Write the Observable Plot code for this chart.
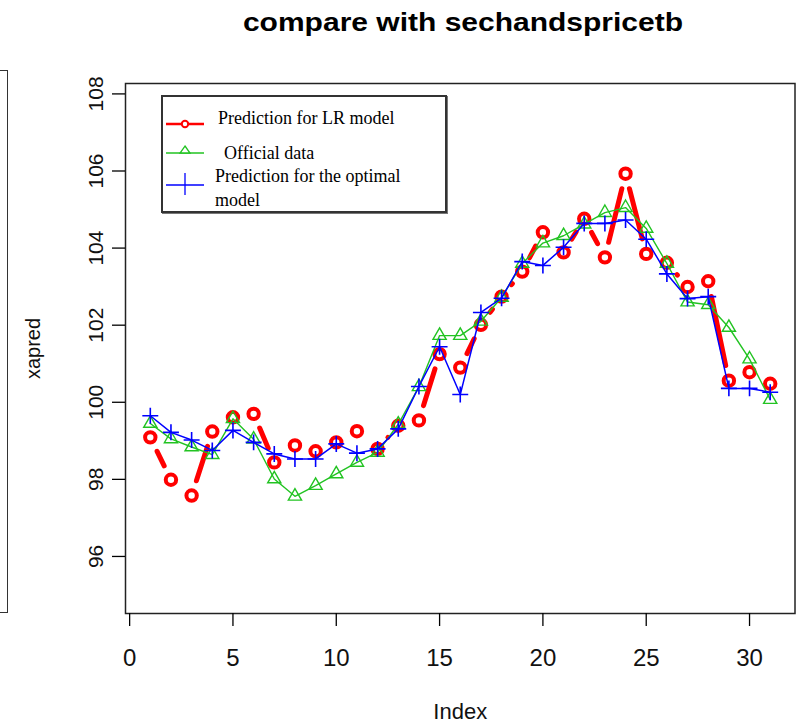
<!DOCTYPE html>
<html>
<head>
<meta charset="utf-8">
<script src="https://cdn.jsdelivr.net/npm/d3@7"></script>
<script src="https://cdn.jsdelivr.net/npm/@observablehq/plot@0.6"></script>
<style>
  html, body { margin: 0; padding: 0; background: #fff; }
  #wrap { position: relative; width: 797px; height: 724px; overflow: hidden; font-family: "Liberation Sans", Arial, sans-serif; }
  #wrap svg.plot { position: absolute; left: 0; top: 0; }
  #title { position: absolute; left: 0; top: 7px; width: 926px; text-align: center; font-weight: bold; font-size: 25px; line-height: 30px; color: #000; transform: scaleX(1.2); transform-origin: 463px 0; }
  #leftframe { position: absolute; left: -2px; top: 70px; width: 8px; height: 541px; border: 1.5px solid #333; }
  #legend { position: absolute; left: 161px; top: 95px; width: 282px; height: 114px; border: 2px solid #333; background: #fff; box-shadow: 1px 1px 0 #777; }
  .lg { position: absolute; font-family: "Liberation Serif", "Times New Roman", serif; font-size: 18px; line-height: 22px; color: #000; white-space: nowrap; }
</style>
</head>
<body>
<div id="wrap">
  <div id="leftframe"></div>
</div>
<script>
// ---- data ----
const index = d3.range(1, 32);
const lrPred = [99.09, 97.99, 97.58, 99.24, 99.61, 99.70, 98.44, 98.88, 98.73, 98.96, 99.25, 98.79, 99.39, 99.53, 101.25, 100.90, 102.01, 102.74, 103.39, 104.41, 103.89, 104.76, 103.76, 105.93, 103.85, 103.62, 102.99, 103.14, 100.56, 100.78, 100.48];
const official = [99.45, 99.05, 98.84, 98.64, 99.57, 99.04, 98.01, 97.56, 97.84, 98.14, 98.44, 98.70, 99.43, 100.40, 101.73, 101.73, 102.10, 102.72, 103.60, 104.13, 104.32, 104.62, 104.92, 105.05, 104.51, 103.60, 102.60, 102.53, 101.94, 101.12, 100.07];
const optimalPred = [99.65, 99.22, 99.02, 98.75, 99.27, 98.96, 98.66, 98.53, 98.53, 98.92, 98.68, 98.79, 99.31, 100.41, 101.44, 100.20, 102.33, 102.70, 103.65, 103.55, 104.02, 104.64, 104.64, 104.73, 104.23, 103.33, 102.69, 102.74, 100.36, 100.36, 100.26];
const xTicks = [0, 5, 10, 15, 20, 25, 30];
const yTicks = [96, 98, 100, 102, 104, 106, 108];
const seriesNames = ["Prediction for LR model", "  Official data", "Prediction for the optimal model"];
const titleText = "compare with sechandspricetb";
const xLabel = "Index";
const yLabel = "xapred";

// ---- build ----
const red = "#ff0000", green = "#22c322", blue = "#0000ff";
const toRows = vals => vals.map((v, i) => ({index: index[i], value: v}));
const lr = toRows(lrPred), off = toRows(official), opt = toRows(optimalPred);
const lrSeg = lr.slice(0, -1).map((d, i) => ({x1: d.index, y1: d.value, x2: lr[i + 1].index, y2: lr[i + 1].value}));

const chart = Plot.plot({
  width: 797, height: 724,
  marginLeft: 125, marginRight: 2.5, marginTop: 83, marginBottom: 111,
  x: {domain: [-0.2, 32.2]},
  y: {domain: [94.52, 108.27]},
  style: {fontFamily: "'Liberation Sans', Arial, sans-serif", background: "transparent", color: "#000", overflow: "visible"},
  marks: [
    Plot.link(lrSeg, {x1: "x1", y1: "y1", x2: "x2", y2: "y2", stroke: red, strokeWidth: 5, strokeLinecap: "round"}),
    Plot.dot(lr, {x: "index", y: "value", r: 5.2, stroke: red, strokeWidth: 4, fill: "none"}),
    Plot.line(off, {x: "index", y: "value", stroke: green, strokeWidth: 1.4}),
    Plot.dot(off, {x: "index", y: "value", symbol: "triangle", r: 4.9, stroke: green, strokeWidth: 1.4, fill: "none"}),
    Plot.line(opt, {x: "index", y: "value", stroke: blue, strokeWidth: 1.5}),
    Plot.dot(opt, {x: "index", y: "value", symbol: "plus", r: 5.2, stroke: blue, strokeWidth: 1.6}),
    Plot.frame({stroke: "#222", strokeWidth: 1.5}),
    Plot.axisX({ticks: xTicks, tickSize: 13, tickFormat: () => "", strokeWidth: 1.3, label: null}),
    Plot.axisY({ticks: yTicks, tickSize: 13, tickFormat: () => "", strokeWidth: 1.3, label: null}),
    Plot.text(xTicks, {x: d => d, text: d => String(d), frameAnchor: "bottom", dy: 45, lineAnchor: "middle", textAnchor: "middle", fontSize: 24, fill: "#111"}),
    Plot.text(yTicks, {y: d => d, text: d => String(d), frameAnchor: "left", dx: -29, rotate: -90, lineAnchor: "middle", textAnchor: "middle", fontSize: 21, fill: "#111"}),
    Plot.text([xLabel], {text: d => d, frameAnchor: "bottom", dy: 98, lineAnchor: "middle", textAnchor: "middle", fontSize: 22, fill: "#111"}),
    Plot.text([yLabel], {text: d => d, frameAnchor: "left", dx: -92, rotate: -90, lineAnchor: "middle", textAnchor: "middle", fontSize: 20, fill: "#111"})
  ]
});
const wrap = document.getElementById("wrap");
wrap.appendChild(chart);

// type "b" style: leave a gap around each point on the LR segments
const gap = 13, sw = 5;
const linkGroup = chart.querySelector('g[aria-label="link"]');
if (linkGroup) {
  linkGroup.querySelectorAll("path, line").forEach(p => {
    const L = p.getTotalLength();
    const d = L - 2 * gap - sw;
    if (d <= 0) { p.setAttribute("stroke-opacity", 0); return; }
    p.setAttribute("stroke-dasharray", `${d} ${L * 2}`);
    p.setAttribute("stroke-dashoffset", `${-(gap + sw / 2)}`);
  });
}

// title
const t = document.createElement("div");
t.id = "title"; t.textContent = titleText;
wrap.appendChild(t);

// legend
const lg = document.createElement("div");
lg.id = "legend";
wrap.appendChild(lg);
const ns = "http://www.w3.org/2000/svg";
const ksvg = document.createElementNS(ns, "svg");
ksvg.setAttribute("width", 797); ksvg.setAttribute("height", 724);
ksvg.style.position = "absolute"; ksvg.style.left = "0"; ksvg.style.top = "0"; ksvg.style.overflow = "visible";
wrap.appendChild(ksvg);
const keyX1 = 166, keyX2 = 204, keyXm = 185;
const keyY = [124, 153, 185];
const keyColors = [red, green, blue];
keyY.forEach((y, i) => {
  const ln = document.createElementNS(ns, "line");
  ln.setAttribute("x1", keyX1); ln.setAttribute("x2", keyX2); ln.setAttribute("y1", y); ln.setAttribute("y2", y);
  ln.setAttribute("stroke", keyColors[i]); ln.setAttribute("stroke-width", i === 0 ? 2.4 : 1.3);
  ksvg.appendChild(ln);
});
const c = document.createElementNS(ns, "circle");
c.setAttribute("cx", keyXm); c.setAttribute("cy", keyY[0]); c.setAttribute("r", 3.2);
c.setAttribute("fill", "white"); c.setAttribute("stroke", red); c.setAttribute("stroke-width", 2);
ksvg.appendChild(c);
const tri = document.createElementNS(ns, "path");
tri.setAttribute("d", `M${keyXm},${keyY[1] - 7}L${keyXm + 5},${keyY[1]}L${keyXm - 5},${keyY[1]}Z`);
tri.setAttribute("fill", "white"); tri.setAttribute("stroke", green); tri.setAttribute("stroke-width", 1.3);
ksvg.appendChild(tri);
const pl = document.createElementNS(ns, "line");
pl.setAttribute("x1", keyXm); pl.setAttribute("x2", keyXm); pl.setAttribute("y1", keyY[2] - 12); pl.setAttribute("y2", keyY[2] + 10);
pl.setAttribute("stroke", blue); pl.setAttribute("stroke-width", 1.3);
ksvg.appendChild(pl);

const textPos = [[218, 107], [215, 142], [215, 164]];
seriesNames.forEach((s, i) => {
  const el = document.createElement("div");
  el.className = "lg";
  el.style.left = textPos[i][0] + "px";
  el.style.top = textPos[i][1] + "px";
  el.style.whiteSpace = i === 2 ? "normal" : "pre";
  if (i === 2) { el.style.width = "200px"; el.style.lineHeight = "24px"; }
  el.textContent = s;
  wrap.appendChild(el);
});
</script>
</body>
</html>
